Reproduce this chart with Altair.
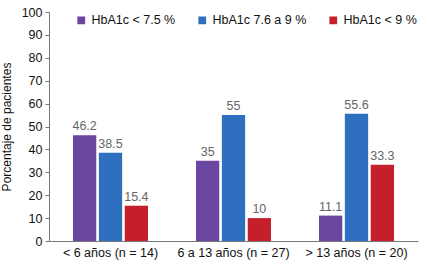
import altair as alt
import pandas as pd

groups = ["< 6 años (n = 14)", "6 a 13 años (n = 27)", "> 13 años (n = 20)"]
series = ["HbA1c < 7.5 %", "HbA1c 7.6 a 9 %", "HbA1c < 9 %"]
values = [
    [46.2, 38.5, 15.4],
    [35, 55, 10],
    [11.1, 55.6, 33.3],
]
labels = [["46.2", "38.5", "15.4"], ["35", "55", "10"], ["11.1", "55.6", "33.3"]]
colors = ["#6B469E", "#2E70BF", "#C41F2B"]
yticks = [0, 10, 20, 30, 40, 50, 60, 70, 80, 90, 100]

rows = []
for gi, g in enumerate(groups):
    for si, s in enumerate(series):
        rows.append({"grupo": g, "serie": s, "valor": values[gi][si], "lab": labels[gi][si]})
df = pd.DataFrame(rows)

FONT = "Liberation Sans"

x = alt.X("grupo:N", sort=groups, title=None,
          scale=alt.Scale(paddingInner=0.39, paddingOuter=0.195),
          axis=alt.Axis(labelAngle=0, labelFontSize=12.5, labelColor="#111", ticks=False,
                        domainColor="#777", labelPadding=5, labelFont=FONT))
xo = alt.XOffset("serie:N", sort=series, scale=alt.Scale(paddingInner=0.1))
y = alt.Y("valor:Q", title="Porcentaje de pacientes",
          scale=alt.Scale(domain=[0, 100], nice=False, zero=True),
          axis=alt.Axis(values=yticks, tickCount=20, grid=False, tickSize=4,
                        tickColor="#777", domainColor="#777", labelFontSize=12.5,
                        labelColor="#111", labelFont=FONT, titleFont=FONT,
                        titleFontSize=12, titleFontWeight="normal", titleColor="#111",
                        titlePadding=8, labelPadding=3, labelOverlap=False,
                        labelFlush=False))

bars = alt.Chart(df).mark_bar().encode(
    x=x, xOffset=xo, y=y,
    color=alt.Color("serie:N", sort=series,
                    scale=alt.Scale(domain=series, range=colors),
                    legend=alt.Legend(title=None, orient="none", legendX=26, legendY=2,
                                      direction="horizontal", symbolType="square",
                                      symbolSize=60, symbolStrokeWidth=0,
                                      labelFontSize=12.5, labelFont=FONT, labelColor="#111",
                                      columnPadding=20, labelOffset=4)),
)

text = alt.Chart(df).mark_text(dy=-9, fontSize=12.5, color="#666", font=FONT).encode(
    x=x, xOffset=xo, y=y, text="lab:N",
)

chart = alt.layer(bars, text).properties(
    width=369, height=229,
    autosize=alt.AutoSizeParams(type="none"),
    padding={"left": 49, "top": 12, "right": 9, "bottom": 24},
).configure(background="white").configure_view(stroke=None)

chart.save("out.html", embed_options={"renderer": "svg", "actions": False})
